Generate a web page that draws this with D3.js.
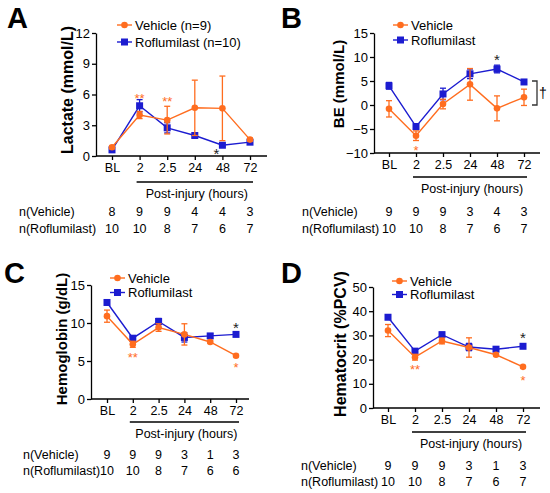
<!DOCTYPE html>
<html lang="en">
  <head>
    <meta charset="UTF-8" />
    <title>Roflumilast panels</title>
    <script src="https://d3js.org/d3.v7.min.js"></script>
    <style>
      body { margin: 0; background: #fff; }
      svg { font-family: "Liberation Sans", Arial, sans-serif; }
    </style>
  </head>
  <body>
    <script>
      // time points (x categories)
      var timeLabels = ["BL", "2", "2.5", "24", "48", "72"];

      // A - lactate (mmol/L)
      var lactateVehMean = [0.85, 4.0, 3.5, 4.7, 4.65, 1.6];
      var lactateVehErr = [0.15, 0.35, 1.35, 2.7, 3.15, 0.15];
      var lactateRofMean = [0.6, 4.9, 2.75, 2.0, 1.05, 1.35];
      var lactateRofErr = [0.1, 0.6, 0.5, 0.2, 0.12, 0.12];
      var lactateNVeh = [8, 9, 9, 4, 4, 3];
      var lactateNRof = [10, 10, 8, 7, 6, 7];
      var lactateTicks = [0, 3, 6, 9, 12];

      // B - base excess (mmol/L)
      var beVehMean = [-0.8, -6.4, 0.2, 4.3, -0.7, 1.6];
      var beVehErr = [1.7, 1.0, 1.0, 3.3, 2.6, 1.7];
      var beRofMean = [4.0, -4.5, 2.3, 6.5, 7.5, 4.8];
      var beRofErr = [0.7, 0.6, 1.2, 1.0, 0.8, 0.3];
      var beNVeh = [9, 9, 9, 3, 4, 3];
      var beNRof = [10, 10, 8, 7, 6, 7];
      var beTicks = [-10, -5, 0, 5, 10, 15];

      // C - hemoglobin (g/dL)
      var hbVehMean = [10.9, 7.2, 9.4, 8.5, 7.5, 5.7];
      var hbVehErr = [0.8, 0.4, 0.5, 1.4, 0.15, 0.15];
      var hbRofMean = [12.7, 8.0, 10.2, 8.1, 8.3, 8.5];
      var hbRofErr = [0.2, 0.2, 0.4, 0.6, 0.3, 0.2];
      var hbNVeh = [9, 9, 9, 3, 1, 3];
      var hbNRof = [10, 10, 8, 7, 6, 6];
      var hbTicks = [0, 5, 10, 15];

      // D - hematocrit (%PCV)
      var hctVehMean = [32, 21, 27.7, 25, 22, 17];
      var hctVehErr = [2.5, 1.2, 1.2, 4, 0.4, 0.4];
      var hctRofMean = [37.5, 23.5, 30.3, 25.2, 24.3, 25.5];
      var hctRofErr = [0.5, 0.6, 1.0, 1.5, 0.8, 0.5];
      var hctNVeh = [9, 9, 9, 3, 1, 3];
      var hctNRof = [10, 10, 8, 7, 6, 7];
      var hctTicks = [0, 10, 20, 30, 40, 50];

      // significance marks: [time index, value, text, series]
      var lactateSig = [[1, 5.95, "**", "veh"], [2, 5.6, "**", "veh"], [4, 0.4, "*", "black"]];
      var beSig = [[1, -8.75, "*", "veh"], [4, 10, "*", "black"]];
      var hbSig = [[1, 5.8, "**", "veh"], [5, 9.7, "*", "black"], [5, 4.5, "*", "veh"]];
      var hctSig = [[1, 17, "**", "veh"], [5, 29.8, "*", "black"], [5, 12.8, "*", "veh"]];

      var ORANGE = "#ff6d1f",
        BLUE = "#1c1cd0";

      var svg = d3.select("body").append("svg").attr("width", 550).attr("height", 493);

      function drawPanel(p) {
        var g = svg.append("g");
        var x = d3.scalePoint().domain(timeLabels).range([p.x0, p.x1]);
        var y = d3.scaleLinear().domain(p.yDomain).range([p.yBottom, p.yTop]);

        // panel letter
        g.append("text")
          .attr("x", p.letterX)
          .attr("y", p.letterY)
          .attr("font-size", 29)
          .attr("font-weight", "bold")
          .text(p.letter);

        // y axis
        var gy = g.append("g")
          .attr("transform", "translate(" + p.axisX + ",0)")
          .call(d3.axisLeft(y).tickValues(p.ticks).tickSize(4).tickSizeOuter(0).tickPadding(2));
        gy.selectAll("path, line").attr("stroke", "#000").attr("stroke-width", 1.3);
        gy.selectAll("text").attr("font-size", 13).attr("font-family", null).attr("fill", "#000");

        // x axis
        var gx = g.append("g")
          .attr("transform", "translate(0," + p.yBottom + ")")
          .call(d3.axisBottom(x).tickSize(4).tickPadding(3));
        gx.select(".domain").remove();
        gx.selectAll("line").attr("stroke", "#000").attr("stroke-width", 1.3);
        gx.selectAll("text").attr("font-size", 12.5).attr("font-family", null).attr("fill", "#000");
        g.append("line")
          .attr("x1", p.axisX).attr("x2", p.axisEnd)
          .attr("y1", p.yBottom).attr("y2", p.yBottom)
          .attr("stroke", "#000").attr("stroke-width", 1.3);

        // y label
        g.append("text")
          .attr("transform", "translate(" + p.labelX + "," + p.labelY + ") rotate(-90)")
          .attr("text-anchor", "middle")
          .attr("font-size", p.labelSize)
          .attr("font-weight", "bold")
          .text(p.yLabel);

        // post-injury bracket
        var pyLine = p.yBottom + p.postGap;
        g.append("line")
          .attr("x1", x("2") - 3).attr("x2", x("72") + 3)
          .attr("y1", pyLine).attr("y2", pyLine)
          .attr("stroke", "#000").attr("stroke-width", 1.3);
        g.append("text")
          .attr("x", (x("2") + x("72")) / 2 + 2)
          .attr("y", pyLine + 16)
          .attr("text-anchor", "middle")
          .attr("font-size", 12.5)
          .text("Post-injury (hours)");

        // n rows
        var rows = [["n(Vehicle)", p.nVeh], ["n(Roflumilast)", p.nRof]];
        rows.forEach(function (r, k) {
          var ry = p.nY + k * p.nStep;
          g.append("text").attr("x", p.nLabelX).attr("y", ry).attr("font-size", 12.5).text(r[0]);
          g.selectAll(null)
            .data(r[1])
            .enter()
            .append("text")
            .attr("x", function (d, i) { return x(timeLabels[i]); })
            .attr("y", ry)
            .attr("text-anchor", "middle")
            .attr("font-size", 12.5)
            .text(function (d) { return d; });
        });

        // series
        var series = [
          { mean: p.rofMean, err: p.rofErr, color: BLUE, shape: "square" },
          { mean: p.vehMean, err: p.vehErr, color: ORANGE, shape: "circle" }
        ];
        var line = d3.line()
          .x(function (d, i) { return x(timeLabels[i]); })
          .y(function (d) { return y(d); });

        series.forEach(function (s) {
          var sg = g.append("g");
          sg.append("path")
            .attr("d", line(s.mean))
            .attr("fill", "none")
            .attr("stroke", s.color)
            .attr("stroke-width", 1.4);
          s.mean.forEach(function (m, i) {
            var cx = x(timeLabels[i]);
            var lo = y(m - s.err[i]), hi = y(m + s.err[i]);
            sg.append("line").attr("x1", cx).attr("x2", cx).attr("y1", lo).attr("y2", hi)
              .attr("stroke", s.color).attr("stroke-width", 1.3);
            [lo, hi].forEach(function (yy) {
              sg.append("line").attr("x1", cx - 3).attr("x2", cx + 3).attr("y1", yy).attr("y2", yy)
                .attr("stroke", s.color).attr("stroke-width", 1.3);
            });
            if (s.shape === "square") {
              sg.append("rect").attr("x", cx - 3.5).attr("y", y(m) - 3.5)
                .attr("width", 7).attr("height", 7).attr("fill", s.color);
            } else {
              sg.append("circle").attr("cx", cx).attr("cy", y(m)).attr("r", 3.3).attr("fill", s.color);
            }
          });
        });

        // significance marks
        p.sig.forEach(function (s) {
          g.append("text")
            .attr("x", x(timeLabels[s[0]]) + (s[3] === "black" && s[0] === 4 && p.letter === "A" ? -6 : 0))
            .attr("y", y(s[1]) + 7.5)
            .attr("text-anchor", "middle")
            .attr("font-size", s[3] === "black" ? 15 : 13)
            .attr("fill", s[3] === "black" ? "#222" : ORANGE)
            .text(s[2]);
        });

        // legend
        [["Vehicle" + p.legendSuffix[0], ORANGE, "circle"], ["Roflumilast" + p.legendSuffix[1], BLUE, "square"]]
          .forEach(function (l, k) {
            var ly = p.legY + k * p.legStep;
            g.append("line").attr("x1", p.legX).attr("x2", p.legX + 15).attr("y1", ly).attr("y2", ly)
              .attr("stroke", l[1]).attr("stroke-width", 1.4);
            if (l[2] === "square") {
              g.append("rect").attr("x", p.legX + 4).attr("y", ly - 3.5).attr("width", 7).attr("height", 7).attr("fill", l[1]);
            } else {
              g.append("circle").attr("cx", p.legX + 7.5).attr("cy", ly).attr("r", 3.3).attr("fill", l[1]);
            }
            g.append("text").attr("x", p.legX + 18).attr("y", ly + 4.5).attr("font-size", 13).text(l[0]);
          });

        return { g: g, x: x, y: y };
      }

      drawPanel({
        letter: "A", letterX: 7, letterY: 28,
        axisX: 96, axisEnd: 267, x0: 112, x1: 250,
        yDomain: [0, 12], yBottom: 156, yTop: 33, ticks: lactateTicks,
        yLabel: "Lactate (mmol/L)", labelX: 73, labelY: 90, labelSize: 16,
        vehMean: lactateVehMean, vehErr: lactateVehErr, rofMean: lactateRofMean, rofErr: lactateRofErr,
        nVeh: lactateNVeh, nRof: lactateNRof, nY: 216, nStep: 17, nLabelX: 19, postGap: 26,
        sig: lactateSig, legX: 117, legY: 25, legStep: 17, legendSuffix: [" (n=9)", " (n=10)"]
      });

      var b = drawPanel({
        letter: "B", letterX: 281, letterY: 28,
        axisX: 374, axisEnd: 540, x0: 389, x1: 524,
        yDomain: [-10, 15], yBottom: 153, yTop: 33, ticks: beTicks,
        yLabel: "BE (mmol/L)", labelX: 344, labelY: 84, labelSize: 15,
        vehMean: beVehMean, vehErr: beVehErr, rofMean: beRofMean, rofErr: beRofErr,
        nVeh: beNVeh, nRof: beNRof, nY: 216, nStep: 17, nLabelX: 302, postGap: 24,
        sig: beSig, legX: 393, legY: 25, legStep: 15, legendSuffix: ["", ""]
      });
      // between-group bracket with dagger (B)
      var bx = 537, by0 = b.y(0), by1 = b.y(5);
      b.g.append("path")
        .attr("d", "M" + (bx - 5) + "," + by1 + "H" + bx + "V" + by0 + "H" + (bx - 5))
        .attr("fill", "none").attr("stroke", "#333").attr("stroke-width", 1.3);
      b.g.append("text").attr("x", bx + 6).attr("y", (by0 + by1) / 2 + 5)
        .attr("text-anchor", "middle").attr("font-size", 14).text("†");

      drawPanel({
        letter: "C", letterX: 4, letterY: 283,
        axisX: 91, axisEnd: 249, x0: 107, x1: 236,
        yDomain: [0, 15], yBottom: 399, yTop: 285, ticks: hbTicks,
        yLabel: "Hemoglobin (g/dL)", labelX: 67, labelY: 339, labelSize: 15,
        vehMean: hbVehMean, vehErr: hbVehErr, rofMean: hbRofMean, rofErr: hbRofErr,
        nVeh: hbNVeh, nRof: hbNRof, nY: 459, nStep: 15.5, nLabelX: 23, postGap: 23,
        sig: hbSig, legX: 110, legY: 278, legStep: 14.5, legendSuffix: ["", ""]
      });

      drawPanel({
        letter: "D", letterX: 281, letterY: 283,
        axisX: 373, axisEnd: 540, x0: 388, x1: 523,
        yDomain: [0, 50], yBottom: 408, yTop: 287, ticks: hctTicks,
        yLabel: "Hematocrit (%PCV)", labelX: 346, labelY: 344, labelSize: 16,
        vehMean: hctVehMean, vehErr: hctVehErr, rofMean: hctRofMean, rofErr: hctRofErr,
        nVeh: hctNVeh, nRof: hctNRof, nY: 470, nStep: 15.5, nLabelX: 301, postGap: 24,
        sig: hctSig, legX: 392, legY: 281, legStep: 13.5, legendSuffix: ["", ""]
      });
    </script>
  </body>
</html>
